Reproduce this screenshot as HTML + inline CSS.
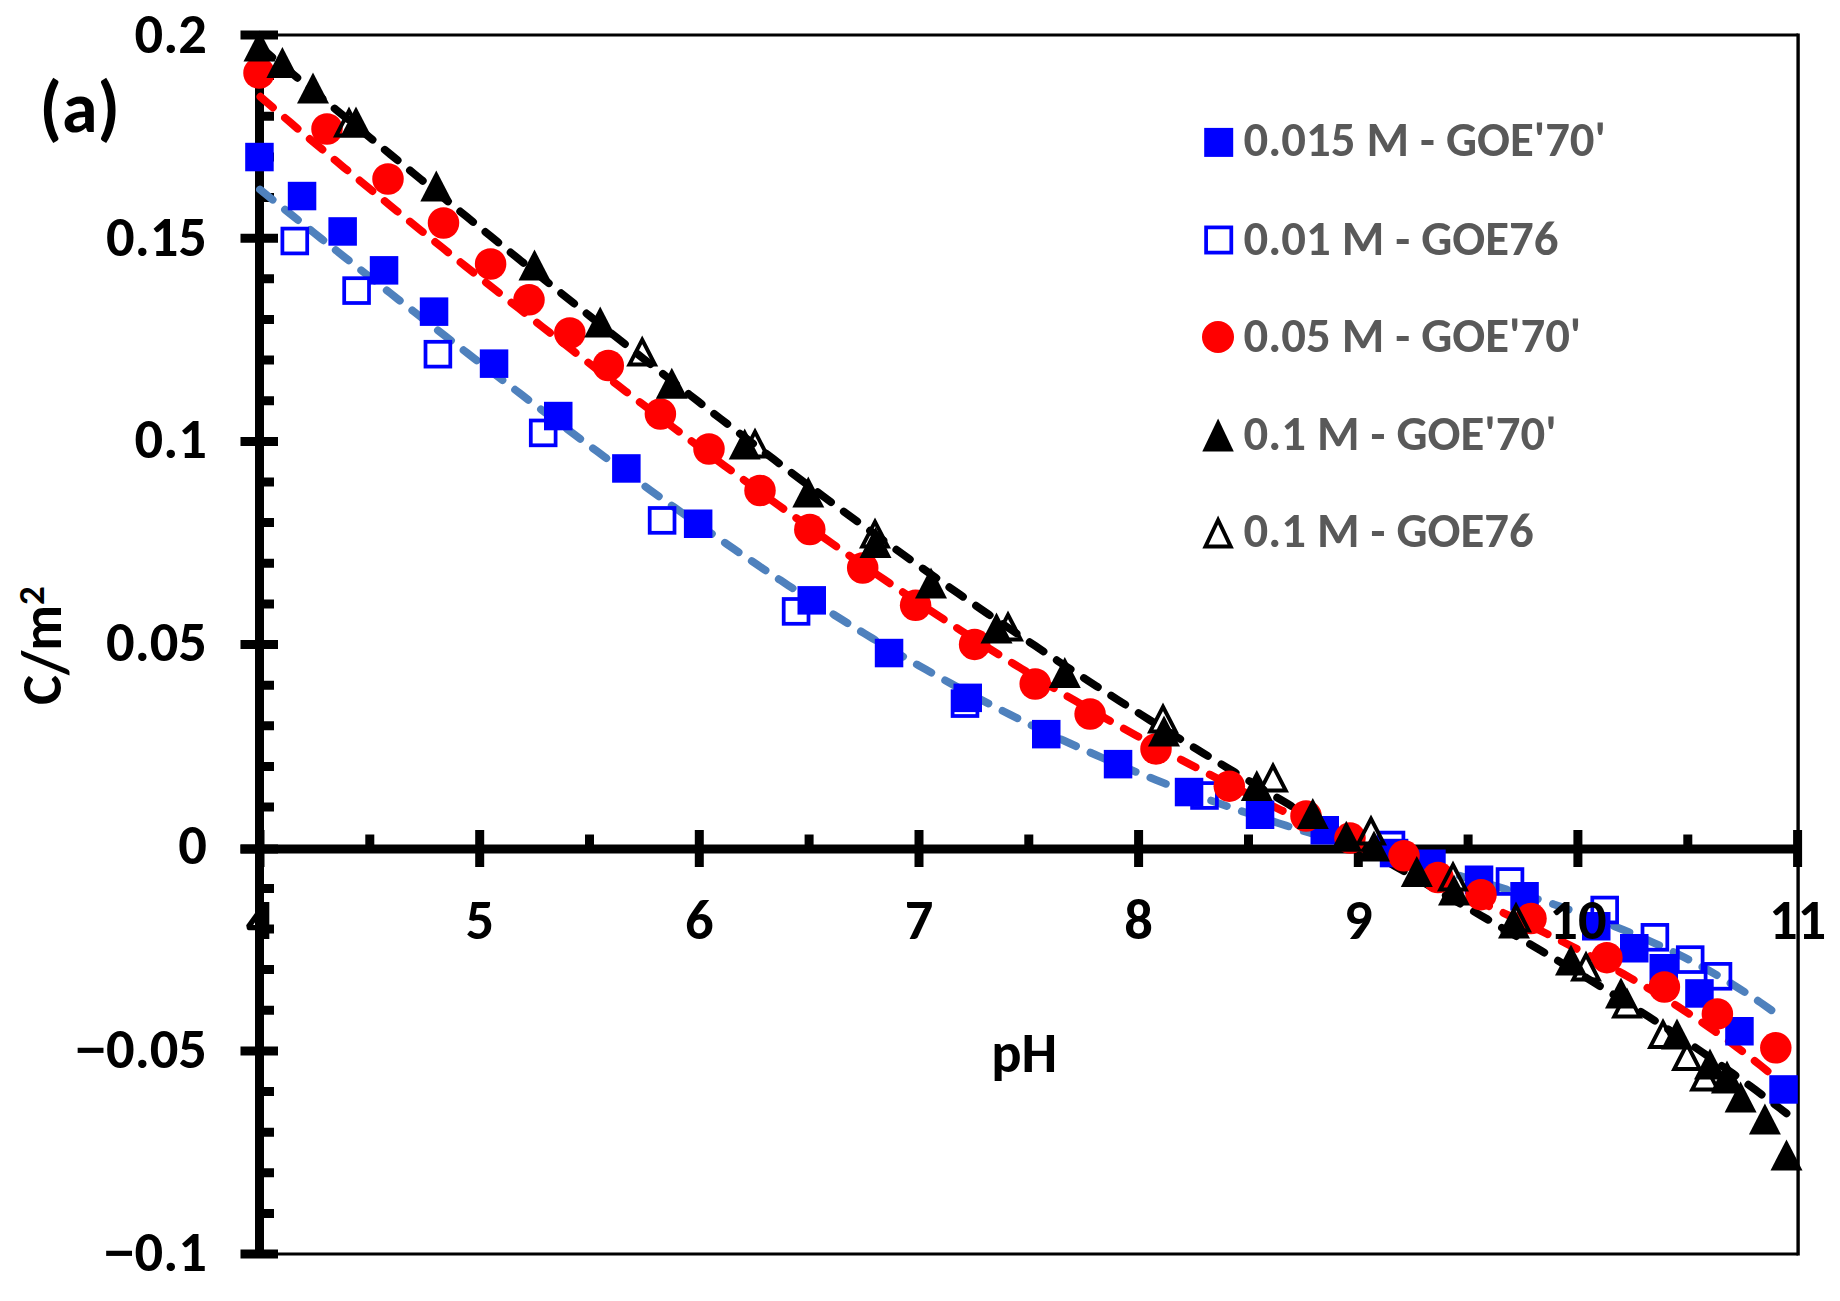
<!DOCTYPE html><html><head><meta charset="utf-8"><style>html,body{margin:0;padding:0;background:#fff}svg{display:block}text{font-family:Carlito, 'Liberation Sans', Arial, sans-serif;font-weight:bold}</style></head><body>
<svg width="1840" height="1301" viewBox="0 0 1840 1301">
<rect width="1840" height="1301" fill="#fff"/>
<path d="M260,35H1798.1M260,1254H1798.1" stroke="#000" stroke-width="3" fill="none"/>
<path d="M1798.1,33.5V1255.5" stroke="#000" stroke-width="3.4" fill="none"/>
<line x1="259.5" y1="33.5" x2="259.5" y2="1255.5" stroke="#000" stroke-width="9"/>
<line x1="240.5" y1="849.0" x2="1799.6" y2="849.0" stroke="#000" stroke-width="9"/>
<path d="M240.5,35.0H278M259.5,75.6H274M259.5,116.3H274M259.5,156.9H274M259.5,197.5H274M240.5,238.2H278M259.5,278.8H274M259.5,319.5H274M259.5,360.1H274M259.5,400.7H274M240.5,441.4H278M259.5,482.0H274M259.5,522.6H274M259.5,563.3H274M259.5,603.9H274M240.5,644.5H278M259.5,685.2H274M259.5,725.8H274M259.5,766.4H274M259.5,807.1H274M240.5,849.0H278M259.5,888.4H274M259.5,929.0H274M259.5,969.6H274M259.5,1010.3H274M240.5,1050.9H278M259.5,1091.5H274M259.5,1132.2H274M259.5,1172.8H274M259.5,1213.4H274M240.5,1254.1H278" stroke="#000" stroke-width="9" fill="none"/>
<path d="M260.0,830V867M369.8,834.5V849.0M479.7,830V867M589.5,834.5V849.0M699.3,830V867M809.1,834.5V849.0M919.0,830V867M1028.8,834.5V849.0M1138.6,830V867M1248.5,834.5V849.0M1358.3,830V867M1468.1,834.5V849.0M1577.9,830V867M1687.8,834.5V849.0M1797.6,830V867" stroke="#000" stroke-width="9" fill="none"/>
<path d="M260.00,189.51 L267.66,195.68 L275.31,201.85 L282.97,208.00 L290.63,214.14 L298.28,220.27 L305.94,226.39 L313.59,232.50 L321.25,238.60 L328.91,244.69 L336.56,250.76 L344.22,256.83 L351.88,262.89 L359.53,268.94 L367.19,274.98 L374.84,281.02 L382.50,287.04 L390.16,293.05 L397.81,299.06 L405.47,305.05 L413.13,311.04 L420.78,317.01 L428.44,322.98 L436.09,328.93 L443.75,334.88 L451.41,340.81 L459.06,346.74 L466.72,352.65 L474.38,358.55 L482.03,364.44 L489.69,370.32 L497.34,376.19 L505.00,382.04 L512.66,387.88 L520.31,393.71 L527.97,399.53 L535.63,405.33 L543.28,411.11 L550.94,416.88 L558.59,422.64 L566.25,428.38 L573.91,434.10 L581.56,439.81 L589.22,445.50 L596.88,451.17 L604.53,456.82 L612.19,462.45 L619.85,468.06 L627.50,473.66 L635.16,479.23 L642.81,484.78 L650.47,490.31 L658.13,495.82 L665.78,501.30 L673.44,506.76 L681.10,512.19 L688.75,517.60 L696.41,522.99 L704.06,528.35 L711.72,533.68 L719.38,538.98 L727.03,544.26 L734.69,549.51 L742.35,554.73 L750.00,559.92 L757.66,565.07 L765.31,570.20 L772.97,575.30 L780.63,580.36 L788.28,585.39 L795.94,590.39 L803.60,595.35 L811.25,600.28 L818.91,605.18 L826.56,610.04 L834.22,614.86 L841.88,619.64 L849.53,624.39 L857.19,629.10 L864.85,633.78 L872.50,638.41 L880.16,643.00 L887.82,647.56 L895.47,652.07 L903.13,656.55 L910.78,660.98 L918.44,665.38 L926.10,669.73 L933.75,674.04 L941.41,678.30 L949.07,682.53 L956.72,686.71 L964.38,690.84 L972.03,694.94 L979.69,698.99 L987.35,702.99 L995.00,706.96 L1002.66,710.87 L1010.32,714.75 L1017.97,718.57 L1025.63,722.36 L1033.28,726.10 L1040.94,729.79 L1048.60,733.44 L1056.25,737.04 L1063.91,740.60 L1071.57,744.11 L1079.22,747.58 L1086.88,751.01 L1094.53,754.39 L1102.19,757.72 L1109.85,761.01 L1117.50,764.26 L1125.16,767.47 L1132.82,770.63 L1140.47,773.74 L1148.13,776.82 L1155.78,779.85 L1163.44,782.84 L1171.10,785.79 L1178.75,788.70 L1186.41,791.57 L1194.07,794.40 L1201.72,797.19 L1209.38,799.94 L1217.04,802.66 L1224.69,805.34 L1232.35,807.98 L1240.00,810.59 L1247.66,813.16 L1255.32,815.70 L1262.97,818.21 L1270.63,820.68 L1278.29,823.13 L1285.94,825.55 L1293.60,827.94 L1301.25,830.30 L1308.91,832.64 L1316.57,834.95 L1324.22,837.24 L1331.88,839.51 L1339.54,841.76 L1347.19,843.99 L1354.85,846.21 L1362.50,848.41 L1370.16,850.59 L1377.82,852.77 L1385.47,854.93 L1393.13,857.09 L1400.79,859.24 L1408.44,861.38 L1416.10,863.53 L1423.75,865.67 L1431.41,867.82 L1439.07,869.97 L1446.72,872.12 L1454.38,874.29 L1462.04,876.46 L1469.69,878.65 L1477.35,880.86 L1485.01,883.08 L1492.66,885.33 L1500.32,887.60 L1507.97,889.89 L1515.63,892.22 L1523.29,894.57 L1530.94,896.97 L1538.60,899.40 L1546.26,901.87 L1553.91,904.38 L1561.57,906.95 L1569.22,909.56 L1576.88,912.23 L1584.54,914.96 L1592.19,917.75 L1599.85,920.60 L1607.51,923.52 L1615.16,926.51 L1622.82,929.58 L1630.47,932.73 L1638.13,935.97 L1645.79,939.29 L1653.44,942.70 L1661.10,946.21 L1668.76,949.82 L1676.41,953.53 L1684.07,957.35 L1691.72,961.29 L1699.38,965.35 L1707.04,969.52 L1714.69,973.83 L1722.35,978.27 L1730.01,982.84 L1737.66,987.56 L1745.32,992.42 L1752.97,997.44 L1760.63,1002.61 L1768.29,1007.95 L1775.94,1013.46 L1783.60,1019.13" stroke="#4F81BD" stroke-dashoffset="0.39" stroke-width="7.80" stroke-dasharray="16.60 15.87" stroke-linecap="round" fill="none"/>
<path d="M260.00,96.41 L267.62,103.00 L275.23,109.56 L282.85,116.09 L290.47,122.59 L298.09,129.06 L305.70,135.51 L313.32,141.93 L320.94,148.33 L328.55,154.71 L336.17,161.06 L343.79,167.39 L351.41,173.70 L359.02,179.99 L366.64,186.26 L374.26,192.52 L381.87,198.75 L389.49,204.97 L397.11,211.18 L404.72,217.36 L412.34,223.53 L419.96,229.69 L427.58,235.83 L435.19,241.96 L442.81,248.08 L450.43,254.18 L458.04,260.27 L465.66,266.34 L473.28,272.41 L480.90,278.46 L488.51,284.50 L496.13,290.53 L503.75,296.55 L511.36,302.55 L518.98,308.55 L526.60,314.53 L534.22,320.50 L541.83,326.46 L549.45,332.41 L557.07,338.35 L564.68,344.28 L572.30,350.19 L579.92,356.10 L587.53,361.99 L595.15,367.87 L602.77,373.74 L610.39,379.60 L618.00,385.44 L625.62,391.28 L633.24,397.09 L640.85,402.90 L648.47,408.70 L656.09,414.48 L663.71,420.24 L671.32,425.99 L678.94,431.73 L686.56,437.45 L694.17,443.16 L701.79,448.86 L709.41,454.53 L717.03,460.19 L724.64,465.84 L732.26,471.47 L739.88,477.08 L747.49,482.67 L755.11,488.24 L762.73,493.80 L770.34,499.34 L777.96,504.86 L785.58,510.35 L793.20,515.83 L800.81,521.29 L808.43,526.73 L816.05,532.14 L823.66,537.53 L831.28,542.91 L838.90,548.25 L846.52,553.58 L854.13,558.88 L861.75,564.16 L869.37,569.41 L876.98,574.64 L884.60,579.84 L892.22,585.02 L899.84,590.17 L907.45,595.30 L915.07,600.40 L922.69,605.47 L930.30,610.51 L937.92,615.53 L945.54,620.51 L953.15,625.47 L960.77,630.40 L968.39,635.30 L976.01,640.18 L983.62,645.02 L991.24,649.83 L998.86,654.61 L1006.47,659.36 L1014.09,664.08 L1021.71,668.77 L1029.33,673.43 L1036.94,678.06 L1044.56,682.65 L1052.18,687.22 L1059.79,691.75 L1067.41,696.25 L1075.03,700.72 L1082.65,705.16 L1090.26,709.57 L1097.88,713.94 L1105.50,718.28 L1113.11,722.59 L1120.73,726.87 L1128.35,731.12 L1135.96,735.34 L1143.58,739.52 L1151.20,743.68 L1158.82,747.80 L1166.43,751.89 L1174.05,755.95 L1181.67,759.99 L1189.28,763.99 L1196.90,767.96 L1204.52,771.91 L1212.14,775.82 L1219.75,779.71 L1227.37,783.58 L1234.99,787.41 L1242.60,791.22 L1250.22,795.00 L1257.84,798.76 L1265.46,802.49 L1273.07,806.20 L1280.69,809.89 L1288.31,813.56 L1295.92,817.20 L1303.54,820.83 L1311.16,824.43 L1318.77,828.02 L1326.39,831.59 L1334.01,835.14 L1341.63,838.68 L1349.24,842.21 L1356.86,845.72 L1364.48,849.22 L1372.09,852.71 L1379.71,856.20 L1387.33,859.67 L1394.95,863.14 L1402.56,866.61 L1410.18,870.07 L1417.80,873.53 L1425.41,876.99 L1433.03,880.46 L1440.65,883.93 L1448.27,887.40 L1455.88,890.88 L1463.50,894.37 L1471.12,897.88 L1478.73,901.39 L1486.35,904.93 L1493.97,908.48 L1501.58,912.05 L1509.20,915.64 L1516.82,919.26 L1524.44,922.90 L1532.05,926.58 L1539.67,930.29 L1547.29,934.03 L1554.90,937.81 L1562.52,941.63 L1570.14,945.49 L1577.76,949.40 L1585.37,953.35 L1592.99,957.36 L1600.61,961.43 L1608.22,965.55 L1615.84,969.73 L1623.46,973.98 L1631.08,978.29 L1638.69,982.67 L1646.31,987.13 L1653.93,991.67 L1661.54,996.29 L1669.16,1000.99 L1676.78,1005.79 L1684.39,1010.67 L1692.01,1015.66 L1699.63,1020.74 L1707.25,1025.93 L1714.86,1031.23 L1722.48,1036.64 L1730.10,1042.16 L1737.71,1047.81 L1745.33,1053.59 L1752.95,1059.50 L1760.57,1065.54 L1768.18,1071.72 L1775.80,1078.05" stroke="#FF0000" stroke-dashoffset="-0.47" stroke-width="7.80" stroke-dasharray="16.60 15.87" stroke-linecap="round" fill="none"/>
<path d="M260.00,46.98 L267.67,53.32 L275.34,59.65 L283.01,65.98 L290.68,72.31 L298.35,78.64 L306.03,84.96 L313.70,91.29 L321.37,97.61 L329.04,103.93 L336.71,110.24 L344.38,116.56 L352.05,122.87 L359.72,129.17 L367.39,135.48 L375.06,141.78 L382.73,148.08 L390.40,154.37 L398.08,160.66 L405.75,166.95 L413.42,173.23 L421.09,179.51 L428.76,185.79 L436.43,192.06 L444.10,198.32 L451.77,204.58 L459.44,210.84 L467.11,217.09 L474.78,223.33 L482.45,229.57 L490.13,235.80 L497.80,242.03 L505.47,248.24 L513.14,254.45 L520.81,260.66 L528.48,266.85 L536.15,273.04 L543.82,279.22 L551.49,285.40 L559.16,291.56 L566.83,297.71 L574.51,303.86 L582.18,309.99 L589.85,316.12 L597.52,322.24 L605.19,328.34 L612.86,334.44 L620.53,340.52 L628.20,346.59 L635.87,352.66 L643.54,358.71 L651.21,364.74 L658.88,370.77 L666.56,376.78 L674.23,382.78 L681.90,388.77 L689.57,394.74 L697.24,400.70 L704.91,406.65 L712.58,412.58 L720.25,418.49 L727.92,424.39 L735.59,430.28 L743.26,436.15 L750.93,442.00 L758.61,447.84 L766.28,453.67 L773.95,459.47 L781.62,465.26 L789.29,471.03 L796.96,476.79 L804.63,482.53 L812.30,488.25 L819.97,493.95 L827.64,499.63 L835.31,505.30 L842.98,510.95 L850.66,516.57 L858.33,522.18 L866.00,527.77 L873.67,533.34 L881.34,538.89 L889.01,544.42 L896.68,549.94 L904.35,555.43 L912.02,560.90 L919.69,566.35 L927.36,571.78 L935.04,577.19 L942.71,582.58 L950.38,587.95 L958.05,593.29 L965.72,598.62 L973.39,603.92 L981.06,609.21 L988.73,614.47 L996.40,619.71 L1004.07,624.93 L1011.74,630.13 L1019.41,635.31 L1027.09,640.46 L1034.76,645.60 L1042.43,650.71 L1050.10,655.80 L1057.77,660.88 L1065.44,665.93 L1073.11,670.95 L1080.78,675.96 L1088.45,680.95 L1096.12,685.92 L1103.79,690.86 L1111.46,695.79 L1119.14,700.69 L1126.81,705.57 L1134.48,710.44 L1142.15,715.28 L1149.82,720.11 L1157.49,724.91 L1165.16,729.70 L1172.83,734.47 L1180.50,739.22 L1188.17,743.95 L1195.84,748.66 L1203.52,753.35 L1211.19,758.03 L1218.86,762.69 L1226.53,767.34 L1234.20,771.96 L1241.87,776.57 L1249.54,781.17 L1257.21,785.75 L1264.88,790.32 L1272.55,794.87 L1280.22,799.41 L1287.89,803.94 L1295.57,808.45 L1303.24,812.95 L1310.91,817.44 L1318.58,821.92 L1326.25,826.39 L1333.92,830.85 L1341.59,835.30 L1349.26,839.75 L1356.93,844.18 L1364.60,848.61 L1372.27,853.04 L1379.94,857.45 L1387.62,861.87 L1395.29,866.28 L1402.96,870.69 L1410.63,875.09 L1418.30,879.50 L1425.97,883.90 L1433.64,888.31 L1441.31,892.71 L1448.98,897.12 L1456.65,901.54 L1464.32,905.96 L1471.99,910.38 L1479.67,914.81 L1487.34,919.25 L1495.01,923.70 L1502.68,928.16 L1510.35,932.63 L1518.02,937.11 L1525.69,941.61 L1533.36,946.12 L1541.03,950.65 L1548.70,955.20 L1556.37,959.76 L1564.05,964.35 L1571.72,968.96 L1579.39,973.59 L1587.06,978.24 L1594.73,982.92 L1602.40,987.63 L1610.07,992.37 L1617.74,997.14 L1625.41,1001.94 L1633.08,1006.78 L1640.75,1011.65 L1648.42,1016.56 L1656.10,1021.51 L1663.77,1026.50 L1671.44,1031.53 L1679.11,1036.60 L1686.78,1041.73 L1694.45,1046.90 L1702.12,1052.11 L1709.79,1057.39 L1717.46,1062.71 L1725.13,1068.09 L1732.80,1073.53 L1740.47,1079.03 L1748.15,1084.59 L1755.82,1090.22 L1763.49,1095.91 L1771.16,1101.67 L1778.83,1107.50 L1786.50,1113.40" stroke="#000" stroke-dashoffset="0.64" stroke-width="7.80" stroke-dasharray="16.60 15.87" stroke-linecap="round" fill="none"/>
<g><rect x="245.2" y="142.8" width="28.5" height="28.5" fill="#0000FF"/><rect x="287.8" y="181.8" width="28.5" height="28.5" fill="#0000FF"/><rect x="328.4" y="217.2" width="28.5" height="28.5" fill="#0000FF"/><rect x="369.8" y="256.1" width="28.5" height="28.5" fill="#0000FF"/><rect x="419.8" y="297.4" width="28.5" height="28.5" fill="#0000FF"/><rect x="479.8" y="349.4" width="28.5" height="28.5" fill="#0000FF"/><rect x="544.0" y="401.8" width="28.5" height="28.5" fill="#0000FF"/><rect x="612.1" y="454.2" width="28.5" height="28.5" fill="#0000FF"/><rect x="683.9" y="509.5" width="28.5" height="28.5" fill="#0000FF"/><rect x="797.5" y="586.1" width="28.5" height="28.5" fill="#0000FF"/><rect x="874.8" y="638.8" width="28.5" height="28.5" fill="#0000FF"/><rect x="953.5" y="683.6" width="28.5" height="28.5" fill="#0000FF"/><rect x="1032.0" y="719.9" width="28.5" height="28.5" fill="#0000FF"/><rect x="1103.8" y="749.9" width="28.5" height="28.5" fill="#0000FF"/><rect x="1174.8" y="777.8" width="28.5" height="28.5" fill="#0000FF"/><rect x="1245.8" y="800.5" width="28.5" height="28.5" fill="#0000FF"/><rect x="1310.5" y="816.0" width="28.5" height="28.5" fill="#0000FF"/><rect x="1379.8" y="838.8" width="28.5" height="28.5" fill="#0000FF"/><rect x="1417.2" y="849.5" width="28.5" height="28.5" fill="#0000FF"/><rect x="1464.8" y="865.5" width="28.5" height="28.5" fill="#0000FF"/><rect x="1510.3" y="882.0" width="28.5" height="28.5" fill="#0000FF"/><rect x="1582.0" y="912.0" width="28.5" height="28.5" fill="#0000FF"/><rect x="1620.0" y="934.0" width="28.5" height="28.5" fill="#0000FF"/><rect x="1649.5" y="954.0" width="28.5" height="28.5" fill="#0000FF"/><rect x="1685.2" y="979.2" width="28.5" height="28.5" fill="#0000FF"/><rect x="1725.2" y="1017.0" width="28.5" height="28.5" fill="#0000FF"/><rect x="1769.3" y="1075.2" width="28.5" height="28.5" fill="#0000FF"/></g>
<g><rect x="282.4" y="228.6" width="24.8" height="24.8" fill="none" stroke="#0000FF" stroke-width="3.75"/><rect x="344.2" y="278.2" width="24.8" height="24.8" fill="none" stroke="#0000FF" stroke-width="3.75"/><rect x="425.5" y="341.8" width="24.8" height="24.8" fill="none" stroke="#0000FF" stroke-width="3.75"/><rect x="530.8" y="420.5" width="24.8" height="24.8" fill="none" stroke="#0000FF" stroke-width="3.75"/><rect x="649.7" y="508.0" width="24.8" height="24.8" fill="none" stroke="#0000FF" stroke-width="3.75"/><rect x="783.7" y="599.0" width="24.8" height="24.8" fill="none" stroke="#0000FF" stroke-width="3.75"/><rect x="952.6" y="691.2" width="24.8" height="24.8" fill="none" stroke="#0000FF" stroke-width="3.75"/><rect x="1192.1" y="783.1" width="24.8" height="24.8" fill="none" stroke="#0000FF" stroke-width="3.75"/><rect x="1378.6" y="832.6" width="24.8" height="24.8" fill="none" stroke="#0000FF" stroke-width="3.75"/><rect x="1497.6" y="869.1" width="24.8" height="24.8" fill="none" stroke="#0000FF" stroke-width="3.75"/><rect x="1592.3" y="897.6" width="24.8" height="24.8" fill="none" stroke="#0000FF" stroke-width="3.75"/><rect x="1642.5" y="924.9" width="24.8" height="24.8" fill="none" stroke="#0000FF" stroke-width="3.75"/><rect x="1677.8" y="947.2" width="24.8" height="24.8" fill="none" stroke="#0000FF" stroke-width="3.75"/><rect x="1705.6" y="963.9" width="24.8" height="24.8" fill="none" stroke="#0000FF" stroke-width="3.75"/></g>
<g><circle cx="259.0" cy="73.0" r="15.75" fill="#FF0000"/><circle cx="327.0" cy="129.0" r="15.75" fill="#FF0000"/><circle cx="388.0" cy="179.0" r="15.75" fill="#FF0000"/><circle cx="443.5" cy="223.0" r="15.75" fill="#FF0000"/><circle cx="490.6" cy="264.0" r="15.75" fill="#FF0000"/><circle cx="529.0" cy="299.8" r="15.75" fill="#FF0000"/><circle cx="569.8" cy="333.0" r="15.75" fill="#FF0000"/><circle cx="608.3" cy="365.5" r="15.75" fill="#FF0000"/><circle cx="660.4" cy="414.0" r="15.75" fill="#FF0000"/><circle cx="709.0" cy="449.0" r="15.75" fill="#FF0000"/><circle cx="760.0" cy="490.5" r="15.75" fill="#FF0000"/><circle cx="809.8" cy="529.6" r="15.75" fill="#FF0000"/><circle cx="862.7" cy="568.0" r="15.75" fill="#FF0000"/><circle cx="915.6" cy="605.3" r="15.75" fill="#FF0000"/><circle cx="974.6" cy="644.4" r="15.75" fill="#FF0000"/><circle cx="1035.2" cy="684.0" r="15.75" fill="#FF0000"/><circle cx="1090.1" cy="714.1" r="15.75" fill="#FF0000"/><circle cx="1156.0" cy="749.0" r="15.75" fill="#FF0000"/><circle cx="1229.3" cy="786.2" r="15.75" fill="#FF0000"/><circle cx="1306.0" cy="816.0" r="15.75" fill="#FF0000"/><circle cx="1350.0" cy="838.1" r="15.75" fill="#FF0000"/><circle cx="1404.0" cy="855.8" r="15.75" fill="#FF0000"/><circle cx="1438.0" cy="877.5" r="15.75" fill="#FF0000"/><circle cx="1481.0" cy="894.7" r="15.75" fill="#FF0000"/><circle cx="1531.0" cy="918.6" r="15.75" fill="#FF0000"/><circle cx="1606.9" cy="957.7" r="15.75" fill="#FF0000"/><circle cx="1664.4" cy="987.0" r="15.75" fill="#FF0000"/><circle cx="1717.4" cy="1013.9" r="15.75" fill="#FF0000"/><circle cx="1775.8" cy="1047.8" r="15.75" fill="#FF0000"/></g>
<g><path d="M259.5,30.5L275.5,61.5L243.5,61.5Z" fill="#000"/><path d="M282.4,47.0L298.4,78.0L266.4,78.0Z" fill="#000"/><path d="M313.0,72.5L329.0,103.5L297.0,103.5Z" fill="#000"/><path d="M356.0,106.5L372.0,137.5L340.0,137.5Z" fill="#000"/><path d="M436.3,170.5L452.3,201.5L420.3,201.5Z" fill="#000"/><path d="M534.5,249.5L550.5,280.5L518.5,280.5Z" fill="#000"/><path d="M600.2,306.5L616.2,337.5L584.2,337.5Z" fill="#000"/><path d="M671.8,367.8L687.8,398.8L655.8,398.8Z" fill="#000"/><path d="M744.7,428.5L760.7,459.5L728.7,459.5Z" fill="#000"/><path d="M808.3,476.5L824.3,507.5L792.3,507.5Z" fill="#000"/><path d="M875.5,527.0L891.5,558.0L859.5,558.0Z" fill="#000"/><path d="M931.0,567.5L947.0,598.5L915.0,598.5Z" fill="#000"/><path d="M996.5,612.5L1012.5,643.5L980.5,643.5Z" fill="#000"/><path d="M1064.8,657.1L1080.8,688.1L1048.8,688.1Z" fill="#000"/><path d="M1164.0,715.5L1180.0,746.5L1148.0,746.5Z" fill="#000"/><path d="M1256.8,769.9L1272.8,800.9L1240.8,800.9Z" fill="#000"/><path d="M1312.8,798.0L1328.8,829.0L1296.8,829.0Z" fill="#000"/><path d="M1346.3,820.8L1362.3,851.8L1330.3,851.8Z" fill="#000"/><path d="M1374.0,830.5L1390.0,861.5L1358.0,861.5Z" fill="#000"/><path d="M1416.8,856.0L1432.8,887.0L1400.8,887.0Z" fill="#000"/><path d="M1454.0,874.5L1470.0,905.5L1438.0,905.5Z" fill="#000"/><path d="M1514.0,907.5L1530.0,938.5L1498.0,938.5Z" fill="#000"/><path d="M1571.0,944.5L1587.0,975.5L1555.0,975.5Z" fill="#000"/><path d="M1621.0,977.5L1637.0,1008.5L1605.0,1008.5Z" fill="#000"/><path d="M1677.0,1018.5L1693.0,1049.5L1661.0,1049.5Z" fill="#000"/><path d="M1710.0,1048.5L1726.0,1079.5L1694.0,1079.5Z" fill="#000"/><path d="M1727.0,1062.5L1743.0,1093.5L1711.0,1093.5Z" fill="#000"/><path d="M1740.6,1081.5L1756.6,1112.5L1724.6,1112.5Z" fill="#000"/><path d="M1764.9,1103.5L1780.9,1134.5L1748.9,1134.5Z" fill="#000"/><path d="M1786.5,1139.5L1802.5,1170.5L1770.5,1170.5Z" fill="#000"/></g>
<g><path d="M349.00,110.75L361.80,135.55L336.20,135.55Z" fill="none" stroke="#000" stroke-width="3.90" stroke-linejoin="miter"/><path d="M642.20,339.75L655.00,364.55L629.40,364.55Z" fill="none" stroke="#000" stroke-width="3.90" stroke-linejoin="miter"/><path d="M755.00,431.75L767.80,456.55L742.20,456.55Z" fill="none" stroke="#000" stroke-width="3.90" stroke-linejoin="miter"/><path d="M875.00,521.75L887.80,546.55L862.20,546.55Z" fill="none" stroke="#000" stroke-width="3.90" stroke-linejoin="miter"/><path d="M1008.00,614.75L1020.80,639.55L995.20,639.55Z" fill="none" stroke="#000" stroke-width="3.90" stroke-linejoin="miter"/><path d="M1163.00,706.75L1175.80,731.55L1150.20,731.55Z" fill="none" stroke="#000" stroke-width="3.90" stroke-linejoin="miter"/><path d="M1273.00,765.75L1285.80,790.55L1260.20,790.55Z" fill="none" stroke="#000" stroke-width="3.90" stroke-linejoin="miter"/><path d="M1371.00,818.75L1383.80,843.55L1358.20,843.55Z" fill="none" stroke="#000" stroke-width="3.90" stroke-linejoin="miter"/><path d="M1453.00,864.75L1465.80,889.55L1440.20,889.55Z" fill="none" stroke="#000" stroke-width="3.90" stroke-linejoin="miter"/><path d="M1516.00,905.75L1528.80,930.55L1503.20,930.55Z" fill="none" stroke="#000" stroke-width="3.90" stroke-linejoin="miter"/><path d="M1586.00,954.75L1598.80,979.55L1573.20,979.55Z" fill="none" stroke="#000" stroke-width="3.90" stroke-linejoin="miter"/><path d="M1627.00,991.75L1639.80,1016.55L1614.20,1016.55Z" fill="none" stroke="#000" stroke-width="3.90" stroke-linejoin="miter"/><path d="M1663.00,1022.25L1675.80,1047.05L1650.20,1047.05Z" fill="none" stroke="#000" stroke-width="3.90" stroke-linejoin="miter"/><path d="M1687.00,1044.25L1699.80,1069.05L1674.20,1069.05Z" fill="none" stroke="#000" stroke-width="3.90" stroke-linejoin="miter"/><path d="M1705.00,1064.75L1717.80,1089.55L1692.20,1089.55Z" fill="none" stroke="#000" stroke-width="3.90" stroke-linejoin="miter"/><path d="M1727.00,1064.75L1739.80,1089.55L1714.20,1089.55Z" fill="none" stroke="#000" stroke-width="3.90" stroke-linejoin="miter"/></g>
<text x="207" y="52.6" font-size="56.5" text-anchor="end" textLength="72.38" lengthAdjust="spacingAndGlyphs">0.2</text>
<text x="207" y="255.6" font-size="56.5" text-anchor="end" textLength="101.00" lengthAdjust="spacingAndGlyphs">0.15</text>
<text x="207" y="458.3" font-size="56.5" text-anchor="end" textLength="72.38" lengthAdjust="spacingAndGlyphs">0.1</text>
<text x="207" y="661.3" font-size="56.5" text-anchor="end" textLength="101.00" lengthAdjust="spacingAndGlyphs">0.05</text>
<text x="207" y="864.2" font-size="56.5" text-anchor="end" textLength="28.64" lengthAdjust="spacingAndGlyphs">0</text>
<text x="207" y="1067.8" font-size="56.5" text-anchor="end" textLength="101.00" lengthAdjust="spacingAndGlyphs">0.05</text>
<text x="73.95" y="1067.8" font-size="56.5" textLength="33.20" lengthAdjust="spacingAndGlyphs">−</text>
<text x="207" y="1270.9" font-size="56.5" text-anchor="end" textLength="72.38" lengthAdjust="spacingAndGlyphs">0.1</text>
<text x="102.60" y="1270.9" font-size="56.5" textLength="33.20" lengthAdjust="spacingAndGlyphs">−</text>
<text x="260.0" y="938.6" font-size="56.5" text-anchor="middle" textLength="28.64" lengthAdjust="spacingAndGlyphs">4</text>
<text x="479.7" y="938.6" font-size="56.5" text-anchor="middle" textLength="28.64" lengthAdjust="spacingAndGlyphs">5</text>
<text x="699.3" y="938.6" font-size="56.5" text-anchor="middle" textLength="28.64" lengthAdjust="spacingAndGlyphs">6</text>
<text x="919.0" y="938.6" font-size="56.5" text-anchor="middle" textLength="28.64" lengthAdjust="spacingAndGlyphs">7</text>
<text x="1138.6" y="938.6" font-size="56.5" text-anchor="middle" textLength="28.64" lengthAdjust="spacingAndGlyphs">8</text>
<text x="1358.3" y="938.6" font-size="56.5" text-anchor="middle" textLength="28.64" lengthAdjust="spacingAndGlyphs">9</text>
<text x="1577.9" y="938.6" font-size="56.5" text-anchor="middle" textLength="57.28" lengthAdjust="spacingAndGlyphs">10</text>
<text x="1797.6" y="938.6" font-size="56.5" text-anchor="middle" textLength="57.28" lengthAdjust="spacingAndGlyphs">11</text>
<text x="991.2" y="1071.6" font-size="56.5" textLength="65.97" lengthAdjust="spacingAndGlyphs">pH</text>
<text transform="translate(61.3,705) rotate(-90)" font-size="56.5" textLength="29.90" lengthAdjust="spacingAndGlyphs">C</text>
<text transform="translate(61.3,705) rotate(-90) translate(29.9,5.2) scale(1,1.16)" font-size="56.5" textLength="24.28" lengthAdjust="spacingAndGlyphs">/</text>
<text transform="translate(61.3,705) rotate(-90)" x="54.18" font-size="56.5" textLength="64.7" lengthAdjust="spacingAndGlyphs">m<tspan font-size="37" dy="-17.4">2</tspan></text>
<text x="39.5" y="132" font-size="72" textLength="80.41" lengthAdjust="spacingAndGlyphs">(a)</text>
<text x="1243.5" y="156.4" font-size="48.75" fill="#595959" textLength="362.44" lengthAdjust="spacingAndGlyphs">0.015 M - GOE&#39;70&#39;</text>
<rect x="1204.2" y="127.9" width="29.0" height="29.0" fill="#0000FF"/>
<text x="1243.5" y="254.7" font-size="48.75" fill="#595959" textLength="314.98" lengthAdjust="spacingAndGlyphs">0.01 M - GOE76</text>
<rect x="1206.1" y="227.4" width="25.2" height="25.2" fill="none" stroke="#0000FF" stroke-width="3.75"/>
<text x="1243.5" y="351.7" font-size="48.75" fill="#595959" textLength="337.73" lengthAdjust="spacingAndGlyphs">0.05 M - GOE&#39;70&#39;</text>
<circle cx="1218.0" cy="337.0" r="16.00" fill="#FF0000"/>
<text x="1243.5" y="449.7" font-size="48.75" fill="#595959" textLength="313.03" lengthAdjust="spacingAndGlyphs">0.1 M - GOE&#39;70&#39;</text>
<path d="M1218.1,418.5L1233.8,451.5L1202.3,451.5Z" fill="#000"/>
<text x="1243.5" y="546.7" font-size="48.75" fill="#595959" textLength="290.27" lengthAdjust="spacingAndGlyphs">0.1 M - GOE76</text>
<path d="M1218.10,520.03L1230.76,546.55L1205.44,546.55Z" fill="none" stroke="#000" stroke-width="3.90" stroke-linejoin="miter"/>
</svg></body></html>
